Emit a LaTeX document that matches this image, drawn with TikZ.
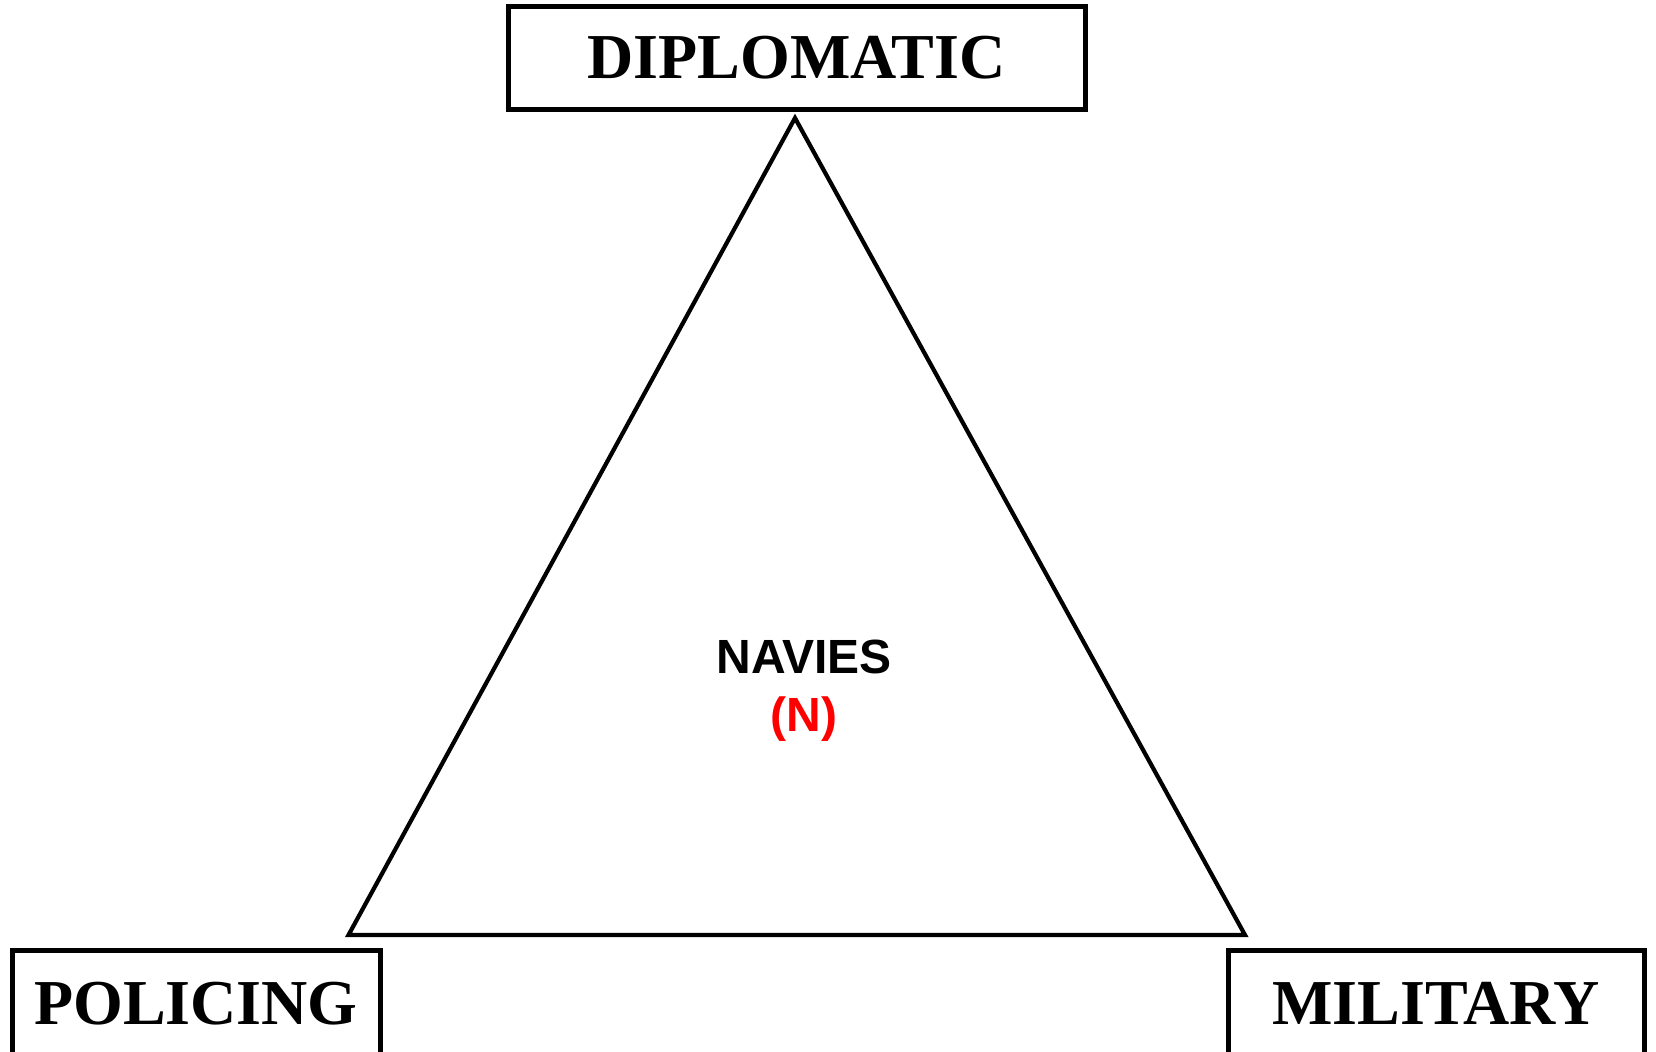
\documentclass[tikz,border=0pt]{standalone}
\usepackage{fontspec}
\setmainfont{Liberation Serif}
\newfontfamily\labelsans{Liberation Sans}
\definecolor{navyred}{RGB}{255,0,0}
\tikzset{
    rolebox/.style={draw, line width=2.5pt, inner sep=0pt,
        font=\fontsize{32}{36}\selectfont\bfseries,
        text height=21pt, text depth=0pt},
}
\begin{document}
\begin{tikzpicture}[x=0.5pt,y=-0.5pt]

        \useasboundingbox (0,0) rectangle (1656,1051);

        % Triangle
        \coordinate (top)   at (795,118);
        \coordinate (left)  at (348.5,935);
        \coordinate (right) at (1245,935);
        \draw[line width=2.1pt] (top) -- (left) -- (right) -- cycle;

        % Boxes
        \node[rolebox, minimum width=288.5pt, minimum height=51.5pt] (diplo) at (796.5,57.5) {DIPLOMATIC};
        \node[rolebox, minimum width=184pt,   minimum height=53pt]   (police) at (196,1003) {POLICING};
        \node[rolebox, minimum width=208pt,   minimum height=53pt]   (milit) at (1436,1003) {MILITARY};

        % Centre label
        \node[font=\labelsans\fontsize{24}{28}\selectfont\bfseries, anchor=base] (navies) at (804,673) {NAVIES};
        \node[font=\labelsans\fontsize{24}{28}\selectfont\bfseries, text=navyred, anchor=base] (navyn) at (804,731) {(N)};

    \end{tikzpicture}
\end{document}
